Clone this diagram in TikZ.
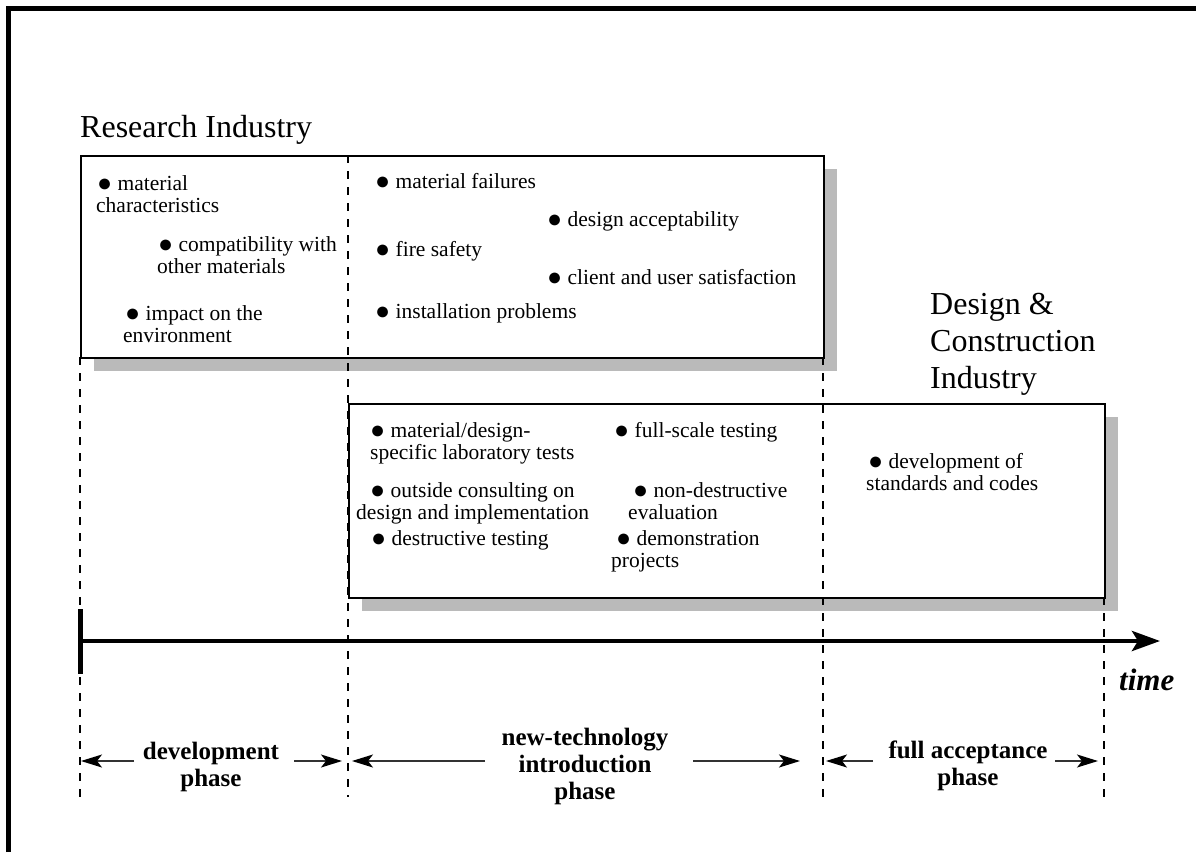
\documentclass[tikz,border=0pt]{standalone}
\usepackage{fontspec}
\setmainfont{Liberation Serif}
\usetikzlibrary{arrows.meta,shadows}
\newcommand{\mytwol}[3][0pt]{\vtop{\hbox{\hspace*{#1}#2}\hbox{#3}}}
\newcommand{\mycenl}[1]{\vtop{\halign{\hfil##\hfil\cr#1\crcr}}}
\newcommand{\mythreel}[3]{\vtop{\hbox{#1}\hbox{#2}\hbox{#3}}}
\newcommand{\bu}{\raisebox{-1pt}{\fontsize{25}{25}\selectfont ●}}
\begin{document}
\begin{tikzpicture}[x=1pt,y=-1pt,
  itm/.style={anchor=base west, inner sep=0pt, font=\fontsize{21.5}{22.5}\selectfont},
  ttl/.style={anchor=base west, inner sep=0pt, font=\fontsize{32}{37}\selectfont},
  phs/.style={anchor=base, inner sep=0pt, font=\fontsize{25}{27}\selectfont\bfseries},
  stage/.style={draw=black, line width=2pt, fill=white, inner sep=0pt, anchor=north west,
    drop shadow={shadow xshift=13pt, shadow yshift=-13pt, fill=black!27, draw=none, opacity=1}},
  divider/.style={line width=2pt, dash pattern=on 8pt off 8pt},
  phasearrow/.style={line width=1.3pt, draw=black!80, -{Stealth[length=21pt,width=13pt,inset=5pt,color=black]}},
  axis/.style={line width=4.5pt, -{Stealth[length=28pt,width=20pt,inset=6pt]}}
]
\useasboundingbox (0,0) rectangle (1196,852);
% frame
\coordinate (fa) at (8.5,852);
\coordinate (fb) at (8.5,8.5);
\coordinate (fc) at (1196,8.5);
\draw[line width=4.5pt] (fa) -- (fb) -- (fc);

% boxes
\node[stage, minimum width=743pt, minimum height=202pt] (rbox) at (80,155) {};
\node[stage, minimum width=756pt, minimum height=194pt] (dbox) at (348,403) {};

% dividers
\coordinate (d1t) at (80,357);  \coordinate (d1b) at (80,797);
\coordinate (d2t) at (348,155); \coordinate (d2b) at (348,797);
\coordinate (d3t) at (823,357); \coordinate (d3b) at (823,797);
\coordinate (d4t) at (1104,597); \coordinate (d4b) at (1104,797);
\draw[divider] (d1t) -- (d1b);
\draw[divider] (d2t) -- (d2b);
\draw[divider] (d3t) -- (d3b);
\draw[divider] (d4t) -- (d4b);

% titles
\node[ttl] (rtitle) at (80,137) {Research Industry};
\node[ttl] (dtitle) at (930,314) {\mythreel{Design \&}{Construction}{Industry}};

% research box items
\node[itm] (mc) at (96,190) {\mytwol[1pt]{\bu{} material}{characteristics}};
\node[itm] (cw) at (157,251) {\mytwol[1pt]{\bu{} compatibility with}{other materials}};
\node[itm] (ie) at (123,320) {\mytwol[2pt]{\bu{} impact on the}{environment}};
\node[itm] (mf) at (375,188) {\bu{} material failures};
\node[itm] (da) at (547,226) {\bu{} design acceptability};
\node[itm] (fs) at (375,256) {\bu{} fire safety};
\node[itm] (cu) at (547,284) {\bu{} client and user satisfaction};
\node[itm] (ip) at (375,318) {\bu{} installation problems};

% design box items
\node[itm] (ml) at (370,437) {\mytwol{\bu{} material/design-}{specific laboratory tests}};
\node[itm] (fst) at (614,437) {\bu{} full-scale testing};
\node[itm] (oc) at (356,497) {\mytwol[14pt]{\bu{} outside consulting on}{design and implementation}};
\node[itm] (nd) at (628,497) {\mytwol[5pt]{\bu{} non-destructive}{evaluation}};
\node[itm] (dt) at (371,545) {\bu{} destructive testing};
\node[itm] (dp) at (611,545) {\mytwol[5pt]{\bu{} demonstration}{projects}};
\node[itm] (ds) at (866,468) {\mytwol[2pt]{\bu{} development of}{standards and codes}};

% time axis
\coordinate (t0) at (80,641);
\coordinate (t1) at (1160,641);
\coordinate (k0) at (80.5,609);
\coordinate (k1) at (80.5,674);
\draw[axis] (t0) -- (t1);
\draw[line width=5pt] (k0) -- (k1);
\node[anchor=base west, inner sep=0pt, font=\fontsize{31}{31}\selectfont\bfseries\itshape] (time) at (1119,690) {time};

% phase labels
\node[phs] (dev) at (211,759) {\mycenl{development\cr phase}};
\node[phs] (ntp) at (585,745) {\mycenl{new-technology\cr introduction\cr phase}};
\node[phs] (fap) at (968,758) {\mycenl{full acceptance\cr phase}};

% phase arrows
\coordinate (a1s) at (134,761); \coordinate (a1e) at (81,761);
\coordinate (a2s) at (294,761); \coordinate (a2e) at (342,761);
\coordinate (a3s) at (485,761); \coordinate (a3e) at (352,761);
\coordinate (a4s) at (693,761); \coordinate (a4e) at (800,761);
\coordinate (a5s) at (873,761); \coordinate (a5e) at (826,761);
\coordinate (a6s) at (1055,761); \coordinate (a6e) at (1098,761);
\draw[phasearrow] (a1s) -- (a1e);
\draw[phasearrow] (a2s) -- (a2e);
\draw[phasearrow] (a3s) -- (a3e);
\draw[phasearrow] (a4s) -- (a4e);
\draw[phasearrow] (a5s) -- (a5e);
\draw[phasearrow] (a6s) -- (a6e);
\end{tikzpicture}
\end{document}
